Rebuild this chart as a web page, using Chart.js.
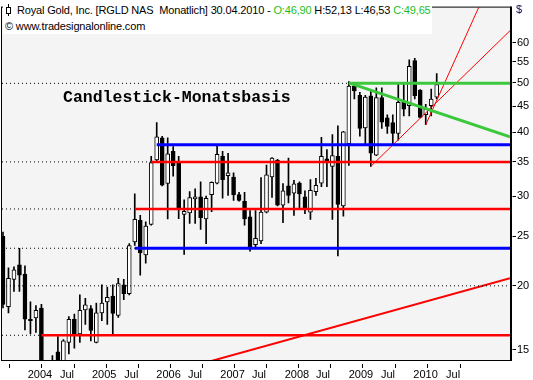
<!DOCTYPE html>
<html>
<head>
<meta charset="utf-8">
<script src="https://cdn.jsdelivr.net/npm/chart.js@4.4.1/dist/chart.umd.min.js"></script>
<style>
  html, body { margin: 0; padding: 0; background: #fff; }
  #wrap { position: relative; width: 533px; height: 380px; overflow: hidden; }
  canvas { display: block; }
  .hdr { position: absolute; left: 3px; top: 2px; width: 429px; background: #fff;
         font: 11px 'Liberation Sans', sans-serif; color: #000; line-height: 16px; letter-spacing: -0.16px; }
  .hdr div { white-space: pre; height: 16px; }
  .hdr .row1 { padding-left: 14px; position: relative; }
  .hdr .row2 { padding-left: 2px; }
  .hdr .g { color: #1cbf1c; }
  .icon-line { position: absolute; left: 5px; top: 2px; width: 1px; height: 12px; background: #000; }
  .icon-box { position: absolute; left: 3px; top: 5px; width: 3px; height: 5px; border: 1px solid #000; background: #fff; }
  .title { position: absolute; left: 63px; top: 90px; font: bold 16.5px 'Liberation Mono', monospace; line-height: 1; color: #000; white-space: pre; }
  .cur { position: absolute; left: 516px; top: 3px; font: 11px 'Liberation Sans', sans-serif; color: #0a0a50; }
</style>
</head>
<body>
<div id="wrap">
  <canvas id="chart" width="533" height="380"></canvas>
  <div class="hdr"><div class="row1"><span class="icon-line"></span><span class="icon-box"></span>Royal Gold, Inc. [RGLD NAS  Monatlich] 30.04.2010 - <span class="g">O:46,90</span> H:52,13 L:46,53 <span class="g">C:49,65</span></div><div class="row2">© www.tradesignalonline.com</div></div>
  <div class="title">Candlestick-Monatsbasis</div>
  <div class="cur">$</div>
</div>
<script>
// Monthly candles, Sep 2003 .. Apr 2010
const open = [25.0, 18.2, 20.6, 22.0, 21.1, 17.2, 17.3, 18.1, 13.6, 13.2,
  14.85, 14.0, 15.5, 17.2, 16.1, 17.95, 18.05, 15.5, 17.7, 18.6,
  19.1, 17.5, 20.1, 19.3, 24.4, 26.9, 23.0, 26.4, 35.3, 39.0,
  31.75, 36.7, 34.8, 27.6, 27.8, 29.6, 29.9, 27.05, 30.2, 31.8,
  35.9, 32.9, 32.7, 30.2, 29.3, 27.3, 24.1, 24.5, 27.9, 32.7,
  35.3, 28.8, 31.4, 30.4, 31.8, 29.9, 27.9, 30.6, 31.8, 35.5,
  34.3, 35.9, 28.7, 38.0, 49.3, 47.3, 40.8, 47.15, 36.1, 46.8,
  42.7, 41.8, 39.8, 45.8, 45.1, 55.3, 48.4, 43.3, 45.1, 46.90];
const high = [25.5, 21.7, 21.8, 23.7, 21.9, 18.6, 18.3, 18.4, 14.1, 14.6,
  15.9, 15.7, 17.4, 17.6, 19.2, 18.9, 18.3, 18.5, 20.1, 19.9,
  20.1, 20.7, 20.6, 24.2, 30.3, 27.5, 26.7, 35.9, 41.8, 39.3,
  39.0, 37.5, 35.9, 29.5, 30.6, 31.0, 32.0, 30.0, 32.0, 37.7,
  36.7, 36.4, 33.3, 30.5, 30.5, 28.1, 28.1, 32.6, 34.5, 35.7,
  35.4, 31.75, 35.6, 32.2, 32.0, 30.7, 32.3, 32.5, 39.1, 37.0,
  39.6, 41.2, 40.2, 50.3, 50.0, 47.9, 47.3, 48.2, 48.9, 48.9,
  43.3, 43.3, 49.7, 49.7, 55.5, 55.9, 48.5, 45.4, 48.6, 52.13];
const low = [18.1, 17.7, 19.5, 19.5, 16.4, 16.1, 16.2, 13.2, 12.5, 12.8,
  13.5, 13.8, 14.7, 15.1, 15.5, 16.8, 15.6, 15.45, 17.1, 16.8,
  16.1, 17.35, 18.8, 19.2, 24.0, 21.0, 22.15, 26.3, 35.2, 31.4,
  27.05, 32.8, 27.1, 23.05, 26.5, 26.5, 25.8, 24.2, 27.95, 31.7,
  29.7, 30.1, 29.4, 29.3, 26.3, 23.4, 23.85, 24.2, 27.8, 29.8,
  28.7, 26.6, 29.1, 27.5, 28.3, 27.7, 27.0, 30.1, 31.3, 31.3,
  27.0, 22.9, 27.4, 34.45, 46.5, 39.3, 38.0, 34.3, 36.0, 40.7,
  39.8, 38.0, 38.6, 43.1, 43.1, 46.5, 42.7, 41.4, 43.1, 46.53];
const close = [18.4, 20.7, 21.5, 21.0, 17.2, 17.1, 17.9, 13.6, 13.2, 13.9,
  13.9, 15.6, 17.2, 16.1, 17.9, 18.35, 16.35, 17.7, 18.5, 19.0,
  17.65, 20.2, 19.3, 24.0, 27.0, 23.2, 26.2, 34.9, 39.2, 31.5,
  36.3, 34.4, 28.3, 28.0, 29.8, 29.9, 27.2, 29.7, 31.9, 36.2,
  32.3, 33.3, 30.2, 29.4, 27.05, 23.85, 24.8, 27.9, 33.0, 35.6,
  28.8, 30.7, 30.1, 31.7, 30.3, 28.4, 30.8, 31.5, 35.9, 34.9,
  36.0, 28.9, 40.1, 49.3, 48.2, 40.7, 46.9, 36.4, 46.8, 41.9,
  41.1, 39.8, 45.8, 44.4, 53.9, 47.2, 42.8, 44.4, 46.5, 49.65];

// x axis (candle index units)
const tickPos = [4.13, 10.02, 15.85, 21.73, 27.56, 33.33, 39.22, 44.99, 50.95, 56.65, 62.6, 68.49, 74.37, 80.33];
const tickLabels = ['2004', 'Jul', '2005', 'Jul', '2006', 'Jul', '2007', 'Jul', '2008', 'Jul', '2009', 'Jul', '2010', 'Jul'];
const priceTicks = [15, 20, 25, 30, 35, 40, 45, 50, 55, 60];
const xMin = -0.18, xMax = 92.35;
const yMin = 14.31, yMax = 70.25;

// horizontal support/resistance levels: value + first candle
const blueLevels = [37.8, 23.7];
const blueStart = [28, 24];
const redLevels = [35.0, 28.3, 16.0];
const redStart = [27, 24, 7];
const greenLevel = 49.9;
const greenStart = 63;
const gridLevel = 20;

// trend lines [[x0, y0], [x1, y1]]
const greenTrend = [[63, 50.0], [92.35, 39.2]];
const redTrendLong = [[30, 13.49], [92.35, 20.7]];
const redTrendA = [[67, 34.3], [92.35, 63.3]];
const redTrendB = [[77, 41.4], [89, 80.0]];

const idx = open.map((_, i) => i);

function seg(points) {
  return points.map(p => ({ x: p[0], y: p[1] }));
}
function line(data, color, width, dash) {
  return {
    type: 'line', data, borderColor: color, borderWidth: width,
    borderDash: dash || [], pointRadius: 0, tension: 0, fill: false, order: 0
  };
}

const datasets = [
  {
    type: 'bar', label: 'wick',
    data: idx.map(i => ({ x: i, y: [low[i], high[i]] })),
    backgroundColor: '#000', borderWidth: 0, barThickness: 1, grouped: false, order: 2
  },
  {
    type: 'bar', label: 'body',
    data: idx.map(i => ({ x: i, y: [open[i], close[i]] })),
    backgroundColor: idx.map(i => close[i] >= open[i] ? '#fff' : '#000'),
    borderColor: '#000', borderWidth: 1, borderSkipped: false,
    barThickness: 4, grouped: false, order: 1
  }
];

// dotted extensions to the left, plus the 20 grid line
[redLevels[0], redLevels[1], blueLevels[1], redLevels[2], greenLevel].forEach((v, k) => {
  const start = [redStart[0], redStart[1], blueStart[1], redStart[2], greenStart][k];
  datasets.push(line(seg([[xMin, v], [start, v]]), '#000', 1, [1, 3]));
});
datasets.push(line(seg([[xMin, gridLevel], [xMax, gridLevel]]), '#000', 1, [1, 3]));

redLevels.forEach((v, k) => datasets.push(line(seg([[redStart[k], v], [xMax, v]]), '#ff0000', 2.5)));
blueLevels.forEach((v, k) => datasets.push(line(seg([[blueStart[k], v], [xMax, v]]), '#0000ff', 3)));
datasets.push(line(seg([[greenStart, greenLevel], [xMax, greenLevel]]), '#3cc83c', 3));
datasets.push(line(seg(greenTrend), '#3cc83c', 3));
datasets.push(line(seg(redTrendLong), '#ff0000', 2));
datasets.push(line(seg(redTrendA), '#ff0000', 1));
datasets.push(line(seg(redTrendB), '#ff0000', 1));

const framePlugin = {
  id: 'frame',
  beforeDatasetsDraw(chart) {
    const { ctx, chartArea: a } = chart;
    ctx.save();
    ctx.fillStyle = '#f4f4f4';
    ctx.fillRect(a.left, a.top, a.right - a.left, a.bottom - a.top);
    ctx.restore();
  },
  afterDraw(chart) {
    const { ctx, chartArea: a } = chart;
    ctx.save();
    ctx.strokeStyle = '#000';
    ctx.lineWidth = 1;
    ctx.strokeRect(a.left - 0.5, a.top - 0.5, a.right - a.left + 1, a.bottom - a.top + 1);
    ctx.lineWidth = 2;
    ctx.beginPath();
    ctx.moveTo(a.right + 1, a.top - 1);
    ctx.lineTo(a.right + 1, a.bottom + 1);
    ctx.stroke();
    ctx.restore();
  }
};

const font = { family: "'Liberation Sans', sans-serif", size: 11 };

new Chart(document.getElementById('chart'), {
  type: 'bar',
  data: { datasets },
  options: {
    responsive: false,
    animation: false,
    layout: { padding: { left: 2, top: 2, right: 0, bottom: 0 } },
    plugins: { legend: { display: false }, tooltip: { enabled: false } },
    scales: {
      x: {
        type: 'linear', min: xMin, max: xMax, offset: false,
        afterBuildTicks: s => { s.ticks = tickPos.map(v => ({ value: v })); },
        afterFit: s => { s.height = 20; },
        ticks: {
          autoSkip: false, maxRotation: 0, align: 'start', labelOffset: 2, padding: 0,
          color: '#000', font,
          callback: (v, i) => tickLabels[i]
        },
        grid: {
          drawOnChartArea: false, tickLength: 8, tickColor: '#000', tickWidth: 1,
          tickBorderDash: [0, 4, 5, 20]
        },
        border: { display: false }
      },
      y: {
        type: 'logarithmic', position: 'right', min: yMin, max: yMax,
        afterBuildTicks: s => { s.ticks = priceTicks.map(v => ({ value: v })); },
        afterFit: s => { s.width = 23; },
        ticks: {
          autoSkip: false, padding: 1, color: '#000', font,
          callback: v => String(v)
        },
        grid: {
          drawOnChartArea: false, tickLength: 6, tickColor: '#000', tickWidth: 1,
          tickBorderDash: [0, 2.5, 3.5, 20]
        },
        border: { display: false }
      }
    }
  },
  plugins: [framePlugin]
});
</script>
</body>
</html>
